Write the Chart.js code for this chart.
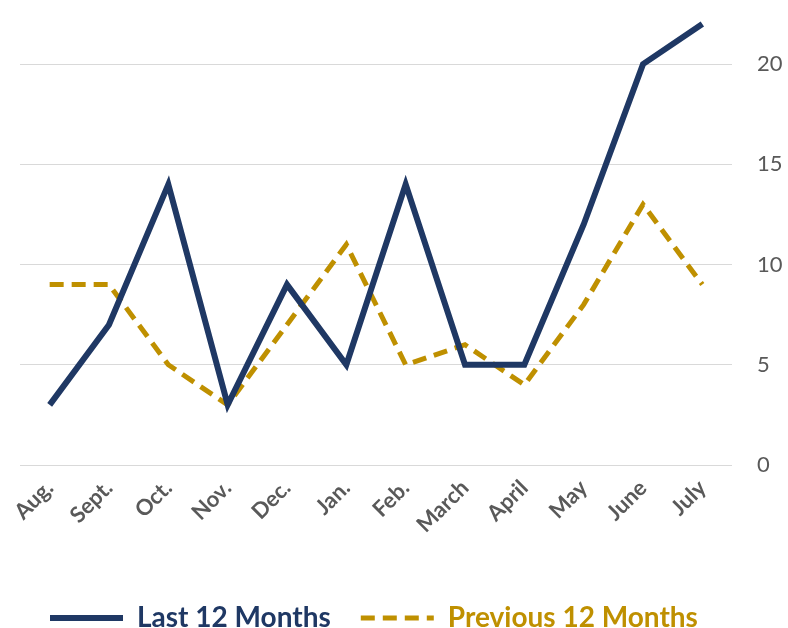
<!DOCTYPE html>
<html>
<head>
<meta charset="utf-8">
<script src="https://cdn.jsdelivr.net/npm/chart.js@4.4.1/dist/chart.umd.min.js"></script>
<style>
  html, body { margin: 0; padding: 0; background: #ffffff; }
  #wrap { width: 788px; height: 628px; position: relative; }
</style>
</head>
<body>
<div id="wrap"><canvas id="trend"></canvas></div>
<script>
const months = ['Aug.', 'Sept.', 'Oct.', 'Nov.', 'Dec.', 'Jan.', 'Feb.', 'March', 'April', 'May', 'June', 'July'];
const last12 = [3, 7, 14, 3, 9, 5, 14, 5, 5, 12, 20, 22];
const prev12 = [9, 9, 5, 3, 7, 11, 5, 6, 4, 8, 13, 9];
const yTicks = [0, 5, 10, 15, 20];

const NAVY = '#1f3864';
const GOLD = '#bf9000';
const FONT = "Lato, 'Open Sans', sans-serif";

const ctx = document.getElementById('trend');

new Chart(ctx, {
  type: 'line',
  data: {
    labels: months,
    datasets: [
      {
        label: 'Last 12 Months',
        data: last12,
        borderColor: NAVY,
        backgroundColor: NAVY,
        borderWidth: 6,
        pointRadius: 0,
        tension: 0,
        clip: false
      },
      {
        label: 'Previous 12 Months',
        data: prev12,
        borderColor: GOLD,
        backgroundColor: GOLD,
        borderWidth: 5,
        borderDash: [14, 8],
        pointRadius: 0,
        tension: 0,
        clip: false
      }
    ]
  },
  options: {
    responsive: true,
    maintainAspectRatio: false,
    animation: false,
    // bottom padding is negative so the legend sits close to the bottom edge
    layout: { padding: { top: 24, left: 20, right: 6, bottom: -14 } },
    scales: {
      x: {
        offset: true,
        grid: { display: false, drawTicks: false },
        border: { display: false },
        afterFit: (scale) => {
          scale.height = 109;
          scale.paddingLeft = 0;
          scale.paddingRight = 0;
        },
        ticks: {
          color: '#595959',
          font: { family: FONT, size: 22, weight: 'bold' },
          maxRotation: 45,
          minRotation: 45,
          padding: 10
        }
      },
      y: {
        position: 'right',
        min: 0,
        max: 22,
        grid: { color: '#d9d9d9', lineWidth: 1, drawTicks: false },
        border: { display: false },
        afterBuildTicks: (axis) => {
          axis.ticks = yTicks.map(v => ({ value: v }));
        },
        afterFit: (scale) => {
          scale.width = 50;
          scale.paddingTop = 0;
          scale.paddingBottom = 0;
        },
        ticks: {
          color: '#595959',
          font: { family: FONT, size: 22 },
          padding: 25
        }
      }
    },
    plugins: {
      legend: {
        position: 'bottom',
        align: 'start',
        labels: {
          usePointStyle: true,
          pointStyle: 'line',
          pointStyleWidth: 73,
          boxHeight: 6,
          padding: 30,
          font: { family: FONT, size: 28, weight: 'bold' },
          generateLabels: (chart) => chart.data.datasets.map((ds, i) => ({
            text: ds.label,
            fillStyle: ds.borderColor,
            strokeStyle: ds.borderColor,
            fontColor: ds.borderColor,
            lineWidth: ds.borderWidth,
            lineDash: ds.borderDash || [],
            pointStyle: 'line',
            datasetIndex: i,
            hidden: false
          }))
        }
      },
      tooltip: { enabled: false }
    }
  }
});
</script>
</body>
</html>
